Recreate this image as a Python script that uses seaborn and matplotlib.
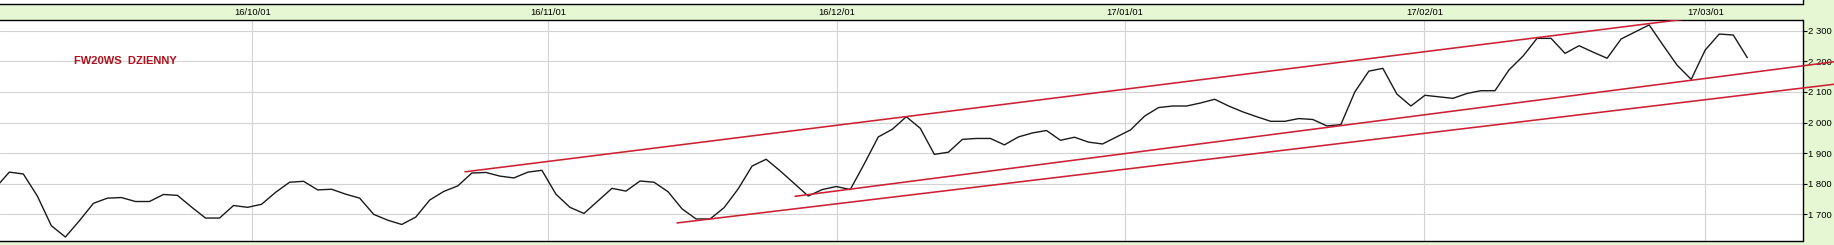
import matplotlib
matplotlib.use("Agg")
import matplotlib.pyplot as plt
from matplotlib import font_manager
from matplotlib.transforms import Bbox, TransformedBbox
from matplotlib.ticker import FuncFormatter, FixedLocator
import seaborn as sns
import numpy as np

# ---------------- data ----------------
# daily closes of FW20WS (trading-day index 0 = first visible session)
closes = [
    1786,
    1838, 1832, 1760, 1663, 1626, 1679, 1736, 1753, 1755, 1742,
    1742, 1765, 1762, 1724, 1688, 1688, 1729, 1723, 1733, 1772,
    1805, 1808, 1780, 1782, 1766, 1753, 1700, 1681, 1667, 1691,
    1747, 1775, 1793, 1835, 1837, 1825, 1819, 1838, 1844, 1766,
    1723, 1703, 1744, 1785, 1776, 1809, 1805, 1774, 1718, 1685,
    1685, 1722, 1783, 1858, 1880, 1842, 1801, 1760, 1781, 1791,
    1781, 1865, 1953, 1978, 2019, 1981, 1896, 1903, 1945, 1948,
    1948, 1927, 1953, 1966, 1974, 1942, 1952, 1936, 1930, 1953,
    1976, 2021, 2049, 2054, 2054, 2064, 2076, 2054, 2035, 2019,
    2004, 2004, 2013, 2010, 1989, 1993, 2100, 2168, 2177, 2093,
    2054, 2089, 2084, 2079, 2095, 2104, 2104, 2172, 2217, 2275,
    2275, 2226, 2251, 2230, 2210, 2273, 2296, 2319, 2252, 2187,
    2141, 2237, 2289, 2286, 2212,
]
session = list(range(len(closes)))

month_labels = ["16/10/01", "16/11/01", "16/12/01", "17/01/01", "17/02/01", "17/03/01"]
month_pos = [18.34, 39.46, 60.03, 80.6, 101.96, 122.0]

y_ticks = [1700, 1800, 1900, 2000, 2100, 2200, 2300]

# trend lines: (session index, value) at start and end
upper_x = [33.51, 121.63]
upper_y = [1839, 2344]
middle_x = [57.06, 131.19]
middle_y = [1759, 2198.5]
lower_x = [48.64, 131.19]
lower_y = [1672, 2125]

title = "FW20WS  DZIENNY"

# ---------------- style ----------------
GREEN = "#E5F8D3"
RED = "#CC2035"
TITLE_RED = "#B0101B"
GRID = "#D3D3D3"

sns.set_style("white")
plt.rcParams["font.family"] = ["Liberation Sans", "DejaVu Sans"]

W, H = 1834, 245
fig = plt.figure(figsize=(W / 100, H / 100), dpi=100, facecolor=GREEN)

ax_right = 1802.5 / W
ax = fig.add_axes([0, 4.0 / H, ax_right, (241.0 - 20.3) / H])
ax.set_facecolor("white")
ax_top = fig.add_axes([0, (H - 4.3) / H, ax_right, 4.3 / H])
ax_top.set_facecolor("white")

xlim = (0.337, 128.94)
ylim = (1613, 2334)

# price line
sns.lineplot(x=session, y=closes, ax=ax, color="#1A1A1A", linewidth=1.0, zorder=3)

# trend lines (extend past the right border, clipped to plot height)
clip_box = TransformedBbox(Bbox([[0, 0], [1.0 / ax_right, 1]]), ax.transAxes)
for xs, ys in [(upper_x, upper_y), (middle_x, middle_y), (lower_x, lower_y)]:
    sns.lineplot(x=xs, y=ys, ax=ax, color=RED, linewidth=1.15, zorder=4)
    ln = ax.lines[-1]
    ln.set_clip_path(None)
    ln.set_clip_box(clip_box)
    ln.set_clip_on(True)

ax.set_xlim(*xlim)
ax.set_ylim(*ylim)
ax.set_xlabel("")
ax.set_ylabel("")

# grid
ax.xaxis.set_major_locator(FixedLocator(month_pos))
ax.yaxis.set_major_locator(FixedLocator(y_ticks))
ax.grid(True, color=GRID, linewidth=0.8, zorder=0)
ax.set_axisbelow(True)
ax.tick_params(axis="x", which="both", length=0, labelbottom=False, labeltop=False)

ax.yaxis.tick_right()
ax.yaxis.set_major_formatter(FuncFormatter(lambda v, p: f"{int(v):,}".replace(",", " ")))
ax.tick_params(axis="y", which="major", direction="out", length=2.6, width=0.8,
               pad=1.2, labelsize=6.8, colors="black", right=True, left=False)

for side in ["top", "bottom", "right"]:
    ax.spines[side].set_visible(True)
    ax.spines[side].set_color("black")
    ax.spines[side].set_linewidth(1.0)
ax.spines["left"].set_visible(False)

# top strip with dates
ax_top.set_xlim(*xlim)
ax_top.set_ylim(0, 1)
ax_top.set_yticks([])
ax_top.xaxis.set_major_locator(FixedLocator(month_pos))
ax_top.set_xticklabels(month_labels)
ax_top.tick_params(axis="x", direction="out", length=2.6, width=0.8, pad=0.4,
                   labelsize=6.8, colors="black")
for side in ["top", "left"]:
    ax_top.spines[side].set_visible(False)
for side in ["bottom", "right"]:
    ax_top.spines[side].set_visible(True)
    ax_top.spines[side].set_color("black")
    ax_top.spines[side].set_linewidth(1.0)

# title
def has_font(name):
    try:
        font_manager.findfont(font_manager.FontProperties(family=name), fallback_to_default=False)
        return True
    except Exception:
        return False

if has_font("Liberation Sans Narrow"):
    tfam, tsize = ["Liberation Sans Narrow", "DejaVu Sans"], 9.6
else:
    tfam, tsize = ["Liberation Sans", "DejaVu Sans"], 8.0
fig.text(74 / W, (H - 64.3) / H, title, color=TITLE_RED, fontsize=tsize,
         family=tfam, fontweight="bold", ha="left", va="baseline")

fig.savefig("out.png", dpi=100, facecolor=GREEN)
